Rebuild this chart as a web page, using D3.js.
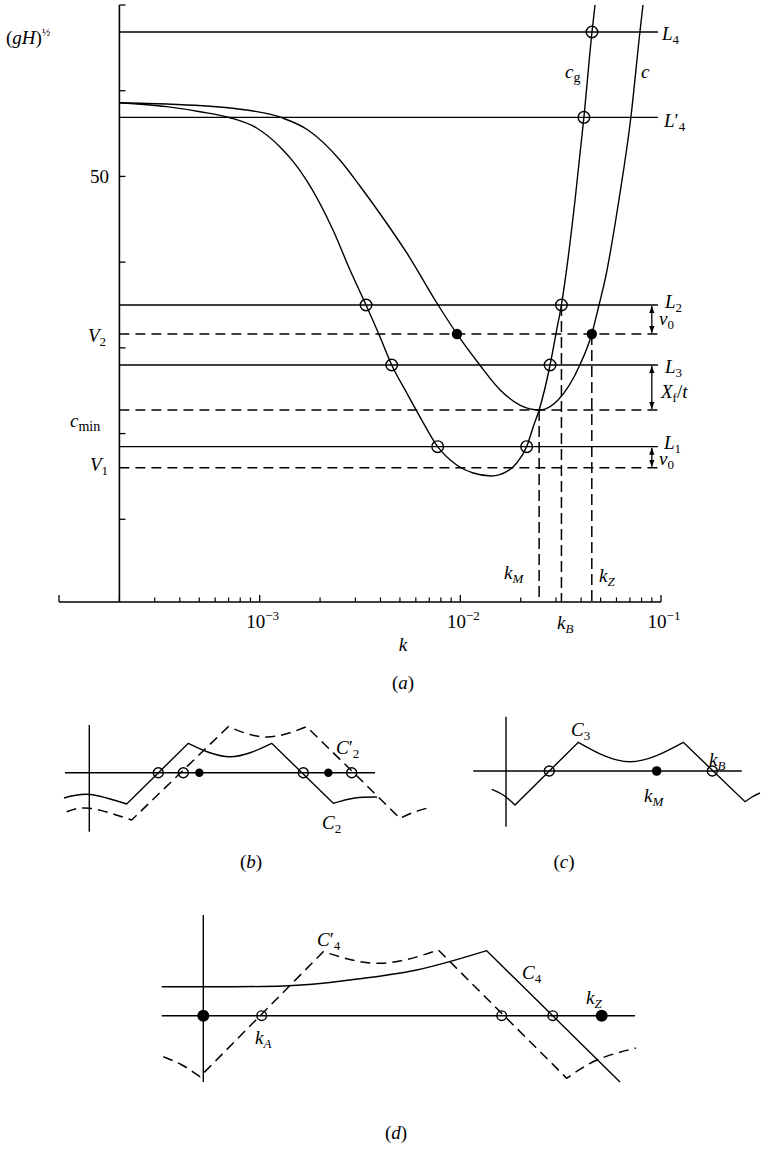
<!DOCTYPE html>
<html><head><meta charset="utf-8">
<script src="https://cdn.jsdelivr.net/npm/d3@7"></script>
<style>
body{margin:0;background:#fff}
svg{display:block}
text{font-family:"Liberation Serif","DejaVu Serif",serif;fill:#000}
</style></head><body>
<svg id="fig" width="774" height="1149"></svg>
<script>
// ---------------- data: panel (a) ----------------
const kDomain = [1e-4, 1e-1];
const speedDomain = [0, 70];
const kMajor = [1e-4, 1e-3, 1e-2, 1e-1];
const kMajorExponents = [-3, -2, -1];
const speedTicks = [10, 20, 30, 40, 50, 60, 70];
const speedTickLabels = ["", "", "", "", "50", "", ""];
const yAxisK = 2e-4;
const lineEndK = 0.0966;
const arrowK = 0.090;

// phase speed c(k)
const phaseSpeed = [
  [2.0e-4,58.6],[3.44e-4,58.45],[7.36e-4,57.95],[1.29e-3,56.85],[1.74e-3,55.42],
  [2.51e-3,51.92],[3.16e-3,48.88],[4.12e-3,45.15],[5.41e-3,41.07],[7.75e-3,35.0],
  [9.62e-3,31.62],[1.25e-2,28.0],[1.58e-2,25.08],[1.98e-2,23.33],[2.49e-2,22.75],
  [3.07e-2,23.92],[3.94e-2,28.0],[4.52e-2,31.62],[4.91e-2,35.0],[5.26e-2,37.92],
  [6.17e-2,47.25],[7.08e-2,56.93],[7.85e-2,66.85],[8.13e-2,70]
];
// group speed c_g(k)
const groupSpeed = [
  [2.0e-4,58.6],[3.44e-4,58.14],[5.05e-4,57.55],[7.11e-4,56.85],[9.66e-4,55.65],
  [1.26e-3,53.47],[1.47e-3,51.72],[1.71e-3,49.58],[2.32e-3,43.75],[2.82e-3,39.08],
  [3.39e-3,35.0],[3.98e-3,31.27],[4.55e-3,28.0],[5.41e-3,24.73],[6.30e-3,21.93],
  [7.71e-3,18.47],[9.59e-3,16.33],[1.16e-2,15.4],[1.43e-2,15.05],[1.70e-2,15.55],
  [1.91e-2,16.57],[2.14e-2,18.47],[2.315e-2,20.88],[2.47e-2,22.75],[2.80e-2,28.0],
  [3.02e-2,32.08],[3.19e-2,35.0],[3.33e-2,37.92],[3.73e-2,47.25],[4.13e-2,56.93],
  [4.53e-2,66.85],[4.69e-2,70]
];
const levelIds = ["L4", "L4p", "L2", "V2", "L3", "cmin", "L1", "V1"];
const levelSpeeds = [66.85, 56.9, 35.0, 31.62, 28.0, 22.75, 18.47, 16.0];
const levelDashed = [0, 0, 0, 1, 0, 1, 0, 1];
const openMarks = [[4.53e-2,66.85],[4.13e-2,56.9],[3.39e-3,35.0],[3.19e-2,35.0],
                   [4.55e-3,28.0],[2.80e-2,28.0],[7.71e-3,18.47],[2.14e-2,18.47]];
const filledMarks = [[9.62e-3,31.62],[4.52e-2,31.62]];
const dropLines = [[2.47e-2,22.75],[3.19e-2,35.0],[4.52e-2,31.62]]; // kM, kB, kZ
const arrowSpans = [[35.0,31.62],[28.0,22.75],[18.47,16.0]];

// ---------------- data: panel (b) (local units) ----------------
const bAxisV = [47.7, -59];
const bAxisH = [-24.3, 285.7];
const bSolid = [
  [[-25.3,-25.3],[0.7,-21.8],[37.4,-31.3]],
  [[37.4,-31.3],[99,29.4]],
  [[99,29.4],[140.7,16],[182.4,29.4]],
  [[182.4,29.4],[244,-30.6]],
  [[244,-30.6],[265.7,-25.3],[287.7,-24.3]]
];
const bDashed = [
  [[-22.6,-39],[0.7,-35.6],[42.4,-47.3]],
  [[42.4,-47.3],[139,46]],
  [[139,46],[177.4,35.7],[217.4,46]],
  [[217.4,46],[310.7,-45.6]],
  [[310.7,-45.6],[323.7,-39.8],[337.4,-35.6]]
];
const bOpen = [69, 94, 214, 262.4];
const bFilled = [110, 239];

// ---------------- data: panel (c) ----------------
const cAxisV = [54.3, -55.7];
const cAxisH = [-32.7, 235.7];
const cSolid = [
  [[-14.3,-18.3],[-2.7,-24],[9,-34]],
  [[9,-34],[72.3,28.7]],
  [[72.3,28.7],[124,9.3],[177.3,28.7]],
  [[177.3,28.7],[239,-30.7]],
  [[239,-30.7],[246,-26],[254,-22]]
];
const cOpen = [43.3, 206.3];
const cFilled = [150.7];

// ---------------- data: panel (d) ----------------
const dAxisV = [100.7, -66.3];
const dAxisH = [-41.6, 431.7];
const dSolid = [
  [[-41.6,29],[80,29.7],[146.7,35.7],[213.4,45.7],[283.4,65]],
  [[283.4,65],[416.7,-66.3]]
];
const dDashed = [
  [[-40,-41],[-21.3,-49.3],[-3.3,-61]],
  [[-3.3,-61],[120,64]],
  [[120,64],[176.7,52.4],[235,65.7]],
  [[235,65.7],[363.4,-62.6]],
  [[363.4,-62.6],[393.7,-44.3],[432.7,-32.3]]
];
const dOpen = [58.4, 298.4, 349.4];
const dFilled = [0, 398.4];

// ---------------- drawing ----------------
const svg = d3.select("#fig");
const defs = svg.append("defs");
defs.append("marker").attr("id","ah").attr("viewBox","0 0 8 6").attr("refX",8).attr("refY",3)
  .attr("markerWidth",7).attr("markerHeight",6).attr("markerUnits","userSpaceOnUse")
  .attr("orient","auto-start-reverse")
  .append("path").attr("d","M0,0L8,3L0,6Z").attr("fill","#000");

const FS = 19, SUB = 13;
function rich(sel, x, y, parts, size, anchor) {
  const t = sel.append("text").attr("x", x).attr("y", y)
    .attr("font-size", size || FS).attr("text-anchor", anchor || "start");
  let shift = 0;
  parts.forEach(p => {
    let target = 0;
    if (p.sub) target = p.sub;
    if (p.sup) target = -p.sup;
    const s = t.append("tspan").attr("dy", target - shift).text(p.t);
    if (p.dx) s.attr("dx", p.dx);
    if (p.size) s.attr("font-size", p.size);
    if (p.it) s.attr("font-style", "italic");
    shift = target;
  });
  return t;
}

const x = d3.scaleLog().domain(kDomain).range([59, 661]);
const y = d3.scaleLinear().domain(speedDomain).range([605, 5]);
const axisY = 602;
const g = svg.append("g");
const ink = "#000";

// axes
g.append("line").attr("x1", x(yAxisK)).attr("x2", x(yAxisK)).attr("y1", y(70)).attr("y2", axisY)
  .attr("stroke", ink).attr("stroke-width", 1.6);
g.append("line").attr("x1", x(kDomain[0])).attr("x2", x(kDomain[1])).attr("y1", axisY).attr("y2", axisY)
  .attr("stroke", ink).attr("stroke-width", 1.6);
speedTicks.forEach((v, i) => {
  g.append("line").attr("x1", x(yAxisK)).attr("x2", x(yAxisK) + 6).attr("y1", y(v)).attr("y2", y(v))
    .attr("stroke", ink).attr("stroke-width", 1.3);
  if (speedTickLabels[i]) g.append("text").attr("x", 109).attr("y", y(v) + 7)
    .attr("text-anchor", "end").attr("font-size", FS).text(speedTickLabels[i]);
});
const minorK = [];
[-4, -3, -2].forEach(e => { for (let m = 2; m <= 9; m++) minorK.push(m * Math.pow(10, e)); });
minorK.forEach(k => g.append("line").attr("x1", x(k)).attr("x2", x(k)).attr("y1", axisY).attr("y2", axisY - 4.5)
  .attr("stroke", ink).attr("stroke-width", 1.2));
kMajor.forEach(k => g.append("line").attr("x1", x(k)).attr("x2", x(k)).attr("y1", axisY).attr("y2", axisY - 7)
  .attr("stroke", ink).attr("stroke-width", 1.3));
kMajorExponents.forEach(e => rich(g, x(Math.pow(10, e)) + 3, 628,
  [{t:"10"}, {t:"\u2212" + (-e), sup:8, size:SUB}], FS, "middle"));

// horizontal levels
levelIds.forEach((id, i) => {
  g.append("line").attr("x1", x(yAxisK)).attr("x2", x(lineEndK))
    .attr("y1", y(levelSpeeds[i])).attr("y2", y(levelSpeeds[i]))
    .attr("stroke", ink).attr("stroke-width", levelDashed[i] ? 1.5 : 1.3)
    .attr("stroke-dasharray", levelDashed[i] ? "10,6" : null);
});
// vertical dashed drop lines
dropLines.forEach(d => g.append("line").attr("x1", x(d[0])).attr("x2", x(d[0]))
  .attr("y1", y(d[1])).attr("y2", axisY).attr("stroke", ink).attr("stroke-width", 1.5)
  .attr("stroke-dasharray", "11,5"));

// curves
const curveGen = d3.line().x(d => x(d[0])).y(d => y(d[1])).curve(d3.curveMonotoneX);
[phaseSpeed, groupSpeed].forEach(s => g.append("path").attr("d", curveGen(s))
  .attr("fill", "none").attr("stroke", ink).attr("stroke-width", 1.4));

// markers
openMarks.forEach(d => g.append("circle").attr("cx", x(d[0])).attr("cy", y(d[1])).attr("r", 5.8)
  .attr("fill", "none").attr("stroke", ink).attr("stroke-width", 1.4));
filledMarks.forEach(d => g.append("circle").attr("cx", x(d[0])).attr("cy", y(d[1])).attr("r", 5.2)
  .attr("fill", ink));

// arrows
arrowSpans.forEach(s => g.append("line").attr("x1", x(arrowK)).attr("x2", x(arrowK))
  .attr("y1", y(s[0]) + 1).attr("y2", y(s[1]) - 1).attr("stroke", ink).attr("stroke-width", 1.3)
  .attr("marker-start", "url(#ah)").attr("marker-end", "url(#ah)"));

// labels (a)
rich(g, 6, 44, [{t:"("},{t:"gH",it:1},{t:")"},{t:"\u00BD",sup:8,size:11}], FS);
rich(g, 88, 342, [{t:"V",it:1},{t:"2",sub:4,size:SUB}]);
rich(g, 70, 427, [{t:"c",it:1},{t:"min",sub:4,size:14}]);
rich(g, 90, 471, [{t:"V",it:1},{t:"1",sub:4,size:SUB}]);
rich(g, 662, 40, [{t:"L",it:1},{t:"4",sub:4,size:SUB}]);
rich(g, 664, 127, [{t:"L",it:1},{t:"\u2032"},{t:"4",sub:4,size:SUB}]);
rich(g, 565, 78, [{t:"c",it:1},{t:"g",sub:4,size:14}]);
rich(g, 641, 78, [{t:"c",it:1}]);
rich(g, 665, 308, [{t:"L",it:1},{t:"2",sub:4,size:SUB}]);
rich(g, 659, 325, [{t:"v",it:1},{t:"0",sub:4,size:SUB}]);
rich(g, 665, 373, [{t:"L",it:1},{t:"3",sub:4,size:SUB}]);
rich(g, 661, 398, [{t:"X",it:1},{t:"f",sub:4,size:SUB},{t:"/"},{t:"t",it:1}]);
rich(g, 664, 449, [{t:"L",it:1},{t:"1",sub:4,size:SUB}]);
rich(g, 659, 465, [{t:"v",it:1},{t:"0",sub:4,size:SUB}]);
rich(g, 504, 579, [{t:"k",it:1},{t:"M",sub:4,size:SUB,it:1}]);
rich(g, 599, 582, [{t:"k",it:1},{t:"Z",sub:4,size:SUB,it:1}]);
rich(g, 557, 629, [{t:"k",it:1},{t:"B",sub:4,size:SUB,it:1}]);
rich(g, 403, 651, [{t:"k",it:1}], FS, "middle");
rich(g, 403, 689, [{t:"("},{t:"a",it:1},{t:")"}], FS, "middle");

// ---------------- small panels ----------------
function drawPanel(origin, axV, axH, solid, dashed, open, filled, rOpen, rFill) {
  const px = d3.scaleLinear().domain([0, 100]).range([origin[0], origin[0] + 100]);
  const py = d3.scaleLinear().domain([0, 100]).range([origin[1], origin[1] - 100]);
  const p = svg.append("g");
  p.append("line").attr("x1", px(0)).attr("x2", px(0)).attr("y1", py(axV[0])).attr("y2", py(axV[1]))
    .attr("stroke", ink).attr("stroke-width", 1.4);
  p.append("line").attr("x1", px(axH[0])).attr("x2", px(axH[1])).attr("y1", py(0)).attr("y2", py(0))
    .attr("stroke", ink).attr("stroke-width", 1.5);
  const lg = d3.line().x(d => px(d[0])).y(d => py(d[1])).curve(d3.curveNatural);
  const joined = pieces => pieces.map((pc, i) => { const s = lg(pc); return i ? "L" + s.slice(1) : s; }).join("");
  if (solid) p.append("path").attr("d", joined(solid)).attr("fill", "none").attr("stroke", ink).attr("stroke-width", 1.4);
  if (dashed) p.append("path").attr("d", joined(dashed)).attr("fill", "none").attr("stroke", ink)
    .attr("stroke-width", 1.5).attr("stroke-dasharray", "10,6");
  open.forEach(v => p.append("circle").attr("cx", px(v)).attr("cy", py(0)).attr("r", rOpen)
    .attr("fill", "none").attr("stroke", ink).attr("stroke-width", 1.4));
  filled.forEach(v => p.append("circle").attr("cx", px(v)).attr("cy", py(0)).attr("r", rFill).attr("fill", ink));
  return p;
}
drawPanel([89.3, 772.7], bAxisV, bAxisH, bSolid, bDashed, bOpen, bFilled, 5, 4.2);
drawPanel([506, 771], cAxisV, cAxisH, cSolid, null, cOpen, cFilled, 5, 4.8);
drawPanel([203.3, 1015.7], dAxisV, dAxisH, dSolid, dDashed, dOpen, dFilled, 4.8, 6);

// panel labels
rich(svg, 336, 754, [{t:"C",it:1},{t:"\u2032"},{t:"2",sub:4,size:SUB}]);
rich(svg, 322, 829, [{t:"C",it:1},{t:"2",sub:4,size:SUB}]);
rich(svg, 251, 868, [{t:"("},{t:"b",it:1},{t:")"}], FS, "middle");
rich(svg, 571, 736, [{t:"C",it:1},{t:"3",sub:4,size:SUB}]);
rich(svg, 709, 766, [{t:"k",it:1},{t:"B",sub:4,size:SUB,it:1}]);
rich(svg, 644, 802, [{t:"k",it:1},{t:"M",sub:4,size:SUB,it:1}]);
rich(svg, 564, 868, [{t:"("},{t:"c",it:1},{t:")"}], FS, "middle");
rich(svg, 317, 946, [{t:"C",it:1},{t:"\u2032"},{t:"4",sub:4,size:SUB}]);
rich(svg, 522, 979, [{t:"C",it:1},{t:"4",sub:4,size:SUB}]);
rich(svg, 255, 1044, [{t:"k",it:1},{t:"A",sub:4,size:SUB,it:1}]);
rich(svg, 586, 1004, [{t:"k",it:1},{t:"Z",sub:4,size:SUB,it:1}]);
rich(svg, 396, 1139, [{t:"("},{t:"d",it:1},{t:")"}], FS, "middle");
</script>
</body></html>
